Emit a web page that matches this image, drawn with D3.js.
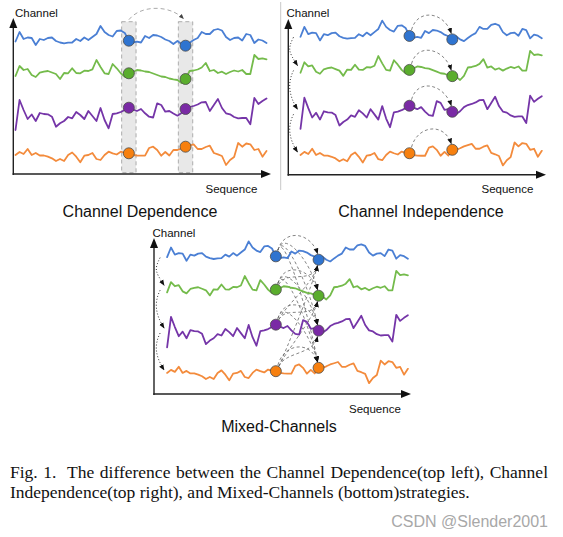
<!DOCTYPE html>
<html><head><meta charset="utf-8">
<script src="https://cdn.jsdelivr.net/npm/d3@7"></script>
<style>body{margin:0;background:#fff}</style>
</head><body>
<svg id="c" width="563" height="537" xmlns="http://www.w3.org/2000/svg"></svg>
<script>
// ---------- data ----------
const channels = ["blue", "green", "purple", "orange"];
const channelBase = [134, 102, 60, 19];          // level of each channel (units above the sequence axis)
const blueDev = [-1.5,8,1,2.5,2,-5,1,0,2,2.5, -1,-2.5,-3.3,-2.7,-2.5,1,-1,2.5,0,3, 6,14,8,5,3.5,9,9.5,7,-0.7,-2.5, -1.7,-2.5,4,2,5,4.5,3,0.5,-1,-4, -1,-4,-5.7,-2.7,0,2,8,6,6,10, 11,9.5,3,0,2,2.5,-0.5,6,5,-3, 0.5,-0.5,-3];
const greenDev = [-4,6,2,3,-3,-5,-0.7,0.3,1,-0.5, -2,-7,-1,-1.3,3.7,-1,-1.3,1.3,1,2.7, 12,5,-1.3,-2,8,3.7,-1.3,-4.7,-1.3,0, 2,1.5,0.5,0,-1.5,-3,-4.5,-5,-6.5,-7.3, -8,-11,-7,1,1.5,2.5,4.5,9,1,2, -1,0.3,-2,0,1.5,0.5,2,-2,-2,17, 13,13.7,12.7];
const purpleDev = [-16,14,4,-5,-0.5,-7,1,0,-0.3,-2.7, -12.7,-9.3,-7,-3,-4.3,2,-1,-5,3,-2, -7,6,-6,-14.3,0,0.7,2,4,6.3,4.5, 3,5,0.7,-2.7,-3.5,10.7,9,2.3,3,0.5, -1.7,1,5,7,8,9.5,11.7,12,3,9, 15,6,0.7,-0.3,-3,-4.3,-4,-4,-10.3,16, 10,13,15.5];
const orangeDev = [0,3,1,6,0,2,-0.5,-0.5,-1.7,-3.3, -6,-4,-6,0,2.5,-1.7,-7.3,-0.7,0,2, -4,-5,0,3.3,1.7,0.5,3.3,2,1.7,0, -0.5,-0.7,-0.7,7,8.3,5,-0.7,3,-0.5,5, 5,6.5,8.3,9.5,10.7,6,6,8,9.3,2, 0.7,-1,-10,-5,-2,12,8.3,11.5,10.7,5, 6,-1.7,4];
const deviations = [blueDev, greenDev, purpleDev, orangeDev];
const sequenceIndex = d3.range(blueDev.length);
const panelTitles = ["Channel Dependence", "Channel Independence", "Mixed-Channels"];
const axisTitles = ["Channel", "Sequence"];
const highlightIdx = [[28, 42], [28, 39], [28, 39]];
const captionLines = [
  "Fig. 1.  The difference between the Channel Dependence(top left), Channel",
  "Independence(top right), and Mixed-Channels (bottom)strategies."
];
const watermark = "CSDN @Slender2001";

// ---------- style ----------
const lineColor = {blue:"#4a7fd4", green:"#74bb4b", purple:"#7535a8", orange:"#f38b3c"};
const dotColor  = {blue:"#2f74d0", green:"#5aad2d", purple:"#7a2aa5", orange:"#f7800f"};
const SANS = "'Liberation Sans', Arial, Helvetica, sans-serif";
const SERIF = "'Liberation Serif', 'Times New Roman', serif";

const panels = [
  {mode:"dep", xr:[15.5,266.5],  yr:[174,18],      ax:{x:13.3,y:174,xt:271,yt:18},  title:[140,217], ch:[15,16.8],    seq:[205.5,193.3]},
  {mode:"ind", xr:[300.5,541.8], yr:[174.8,12.3],  ax:{x:288.3,y:174.7,xt:546,yt:19}, title:[421,217], ch:[286.5,16.8], seq:[481.5,193.3]},
  {mode:"mix", xr:[167.1,407.9], yr:[392.3,233.2], ax:{x:154,y:394,xt:411,yt:238},  title:[279,432], ch:[152.5,236.5], seq:[349,413]}
];

const svg = d3.select("#c");
const defs = svg.append("defs");
function marker(id, color, size){
  defs.append("marker").attr("id", id).attr("viewBox","0 0 10 10")
    .attr("refX", 9).attr("refY", 5).attr("markerWidth", size).attr("markerHeight", size)
    .attr("markerUnits","userSpaceOnUse").attr("orient","auto")
    .append("path").attr("d","M0,1 L10,5 L0,9 z").attr("fill", color);
}
marker("ah", "#111", 6);
marker("ahg", "#444", 5);

// thin frame line at left of top-right panel
svg.append("line").attr("x1",280.7).attr("x2",280.7).attr("y1",2).attr("y2",190)
  .attr("stroke","#c8c8c8").attr("stroke-width",1);

panels.forEach((p, pi) => {
  const g = svg.append("g");
  const x = d3.scaleLinear().domain([0, sequenceIndex.length - 1]).range(p.xr);
  const y = d3.scaleLinear().domain([0, 156]).range(p.yr);
  const level = (c, i) => channelBase[c] + deviations[c][i];
  const [i1, i2] = highlightIdx[pi];
  const pt = (c, i) => [x(i), y(level(c, i))];

  // shaded boxes (dependence)
  if (p.mode === "dep") {
    [i1, i2].forEach(i => {
      g.append("rect").attr("x", x(i) - 7.2).attr("width", 14.4)
        .attr("y", y(156) + 3.7).attr("height", p.ax.y - 1.3 - (y(156) + 3.7))
        .attr("fill","#e8e8e8").attr("stroke","#9a9a9a").attr("stroke-width",0.8)
        .attr("stroke-dasharray","4,3");
    });
    const top = y(156) + 3.7;
    const a = [x(i1), top - 2], b = [x(i2) - 2, top - 3];
    const path = d3.path();
    path.moveTo(a[0], a[1]);
    path.bezierCurveTo(a[0] + 12, top - 17, b[0] - 14, top - 17, b[0], b[1]);
    g.append("path").attr("d", path.toString()).attr("fill","none")
      .attr("stroke","#a0a0a0").attr("stroke-width",0.9).attr("stroke-dasharray","4,3")
      .attr("marker-end","url(#ahg)");
  }

  // axes
  const ax = p.ax;
  g.append("line").attr("x1", ax.x).attr("x2", ax.x).attr("y1", ax.y + 1).attr("y2", ax.yt + 8)
    .attr("stroke","#222").attr("stroke-width",1.4);
  g.append("path").attr("d", `M${ax.x-4},${ax.yt+10} L${ax.x},${ax.yt} L${ax.x+4},${ax.yt+10} Z`).attr("fill","#111");
  g.append("line").attr("x1", ax.x - 0.7).attr("x2", ax.xt - 8).attr("y1", ax.y).attr("y2", ax.y)
    .attr("stroke","#222").attr("stroke-width",1.4);
  g.append("path").attr("d", `M${ax.xt-10},${ax.y-4} L${ax.xt},${ax.y} L${ax.xt-10},${ax.y+4} Z`).attr("fill","#111");

  g.append("text").attr("x", p.ch[0]).attr("y", p.ch[1]).attr("font-family", SANS)
    .attr("font-size", 11.5).attr("fill","#111").text(axisTitles[0]);
  g.append("text").attr("x", p.seq[0]).attr("y", p.seq[1]).attr("font-family", SANS)
    .attr("font-size", 11.5).attr("fill","#111").text(axisTitles[1]);
  g.append("text").attr("x", p.title[0]).attr("y", p.title[1]).attr("text-anchor","middle")
    .attr("font-family", SANS).attr("font-size", 16).attr("fill","#111").text(panelTitles[pi]);

  // dotted channel-to-channel arcs at the start (independence & mixed)
  if (p.mode !== "dep") {
    for (let c = 0; c < channels.length - 1; c++) {
      const sx = x(0) - 7, sy = y(channelBase[c]) + 2;
      const ex = x(0) - 3, ey = y(channelBase[c + 1]) - 3;
      const path = d3.path();
      path.moveTo(sx, sy);
      path.bezierCurveTo(sx - 6, sy + 12, ex - 9, ey - 14, ex, ey);
      g.append("path").attr("d", path.toString()).attr("fill","none")
        .attr("stroke","#333").attr("stroke-width",1).attr("stroke-dasharray","1,2")
        .attr("marker-end","url(#ah)");
    }
  }

  // dashed dependency arcs between highlighted points
  const arcs = [];
  if (p.mode === "ind") channels.forEach((_, c) => arcs.push([c, c]));
  if (p.mode === "mix") channels.forEach((_, s) => channels.forEach((_, t) => arcs.push([s, t])));
  arcs.forEach(([s, t]) => {
    const a = pt(s, i1), b = pt(t, i2);
    const path = d3.path();
    if (t >= s) {
      const sx = a[0] + 2, sy = a[1] - 6, ex = b[0] - 1, ey = b[1] - 6;
      path.moveTo(sx, sy);
      path.bezierCurveTo(a[0] + 8, a[1] - 28, b[0] - 8, b[1] - 28 - (t - s) * 6, ex, ey);
    } else {
      const sx = a[0] + 3, sy = a[1] - 5, ex = b[0] - 1, ey = b[1] + 6;
      path.moveTo(sx, sy);
      path.bezierCurveTo(a[0] + 10, a[1] - 20, b[0] - 6, b[1] + 25, ex, ey);
    }
    g.append("path").attr("d", path.toString()).attr("fill","none")
      .attr("stroke","#666").attr("stroke-width",0.8).attr("stroke-dasharray","3,2.5")
      .attr("marker-end","url(#ah)");
  });

  // series lines
  const line = d3.line().x(i => x(i)).curve(d3.curveLinear);
  channels.forEach((name, c) => {
    g.append("path").datum(sequenceIndex)
      .attr("d", line.y(i => y(level(c, i))))
      .attr("fill","none").attr("stroke", lineColor[name]).attr("stroke-width",1.8)
      .attr("stroke-linejoin","round").attr("stroke-linecap","round");
  });

  // highlighted points
  channels.forEach((name, c) => {
    [i1, i2].forEach(i => {
      g.append("circle").attr("cx", x(i)).attr("cy", y(level(c, i))).attr("r", 5.5)
        .attr("fill", dotColor[name]).attr("stroke","#4a4a4a").attr("stroke-width",0.8);
    });
  });
});

// caption
const cap1 = svg.append("text").attr("x", 10).attr("y", 478).attr("font-family", SERIF)
  .attr("font-size", 17.5).attr("fill","#111").style("white-space","pre").text(captionLines[0]);
const nat = cap1.node().getComputedTextLength();
const nSp = (captionLines[0].match(/ /g) || []).length;
cap1.attr("word-spacing", Math.max(0, (538 - nat) / nSp));
svg.append("text").attr("x", 10).attr("y", 498).attr("font-family", SERIF)
  .attr("font-size", 17.5).attr("fill","#111").style("white-space","pre").text(captionLines[1]);

svg.append("text").attr("x", 548).attr("y", 526.5).attr("text-anchor","end").attr("font-family", SANS)
  .attr("font-size", 16).attr("fill","#a8a8a8").text(watermark);
</script>
</body></html>
